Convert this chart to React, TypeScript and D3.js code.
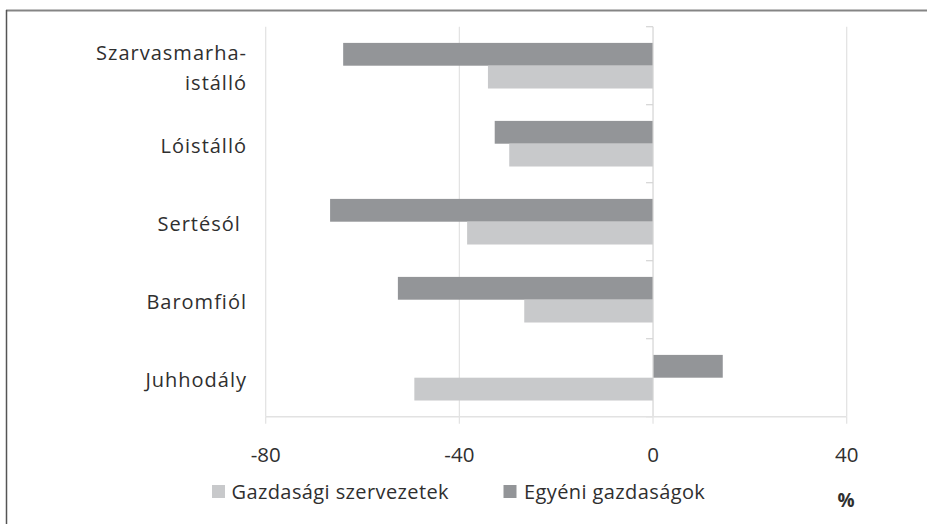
import React from 'react';
import * as d3 from 'd3';

// categories, top to bottom
const categories = ['Szarvasmarha-istálló', 'Lóistálló', 'Sertésól', 'Baromfiól', 'Juhhodály'];
const categoryLines = [['Szarvasmarha-', 'istálló'], ['Lóistálló'], ['Sertésól\u00a0'], ['Baromfiól'], ['Juhhodály']];

// % change
const gazdasagi = [-34.1, -29.7, -38.4, -26.6, -49.3];
const egyeni = [-64.0, -32.7, -66.7, -52.7, 14.4];

const xTicks = [-80, -40, 0, 40];
const seriesNames = ['Gazdasági szervezetek', 'Egyéni gazdaságok'];
const seriesColors = ['#c8c9cb', '#939598'];

const FONT = "'Open Sans', 'DejaVu Sans', sans-serif";
const TEXT = '#2f2f2f';

export default function App() {
  const width = 927;
  const height = 524;
  const plot = { left: 265.7, right: 846.7, top: 26.7, bottom: 416.7 };

  const x = d3.scaleLinear().domain([-80, 40]).range([plot.left, plot.right]);
  const y = d3.scaleBand().domain(categories).range([plot.top, plot.bottom]).padding(0);
  // within a category: dark (Egyéni) on top, light (Gazdasági) below
  const sub = d3.scaleBand().domain(['egyeni', 'gazdasagi']).range([0, y.bandwidth()])
    .paddingInner(0).paddingOuter(0.71);

  const x0 = x(0);
  const bars = categories.flatMap((c, i) => [
    { key: 'egyeni', cat: c, v: egyeni[i], fill: seriesColors[1] },
    { key: 'gazdasagi', cat: c, v: gazdasagi[i], fill: seriesColors[0] },
  ]);

  return (
    <svg width={width} height={height} style={{ position: 'absolute', left: 0, top: 0, background: '#fff' }}
      fontFamily={FONT}>
      {/* frame */}
      <line x1={6} x2={width} y1={10.5} y2={10.5} stroke="#858585" strokeWidth={2} />
      <line x1={6.5} x2={6.5} y1={10} y2={height} stroke="#555" strokeWidth={1.5} />

      {/* gridlines */}
      {xTicks.filter(t => t !== 0).map(t => (
        <line key={t} x1={x(t)} x2={x(t)} y1={plot.top} y2={plot.bottom} stroke="#e2e2e2" strokeWidth={1.2} />
      ))}

      {/* bars */}
      {bars.map(b => (
        <rect key={b.cat + b.key}
          x={Math.min(x(b.v), x0)} width={Math.abs(x(b.v) - x0)}
          y={(y(b.cat) as number) + (sub(b.key) as number)} height={sub.bandwidth()}
          fill={b.fill} />
      ))}

      {/* zero axis with category ticks */}
      <line x1={x0} x2={x0} y1={plot.top} y2={plot.bottom} stroke="#d4d4d4" strokeWidth={1.2} />
      {d3.range(categories.length + 1).map(i => {
        const yy = plot.top + i * y.step();
        return <line key={i} x1={x0 - 7} x2={x0} y1={yy} y2={yy} stroke="#d4d4d4" strokeWidth={1.2} />;
      })}

      {/* bottom axis */}
      <line x1={plot.left} x2={plot.right} y1={plot.bottom} y2={plot.bottom} stroke="#e2e2e2" strokeWidth={1.5} />
      {xTicks.map(t => (
        <g key={t}>
          <line x1={x(t)} x2={x(t)} y1={plot.bottom} y2={plot.bottom + 7} stroke="#e2e2e2" strokeWidth={1.2} />
          <text x={x(t)} y={462} textAnchor="middle" fontSize={20.5} fill={TEXT}>{t}</text>
        </g>
      ))}

      {/* category labels */}
      {categories.map((c, i) => {
        const lines = categoryLines[i];
        const cy = (y(c) as number) + y.bandwidth() / 2;
        const lh = 30;
        const first = cy + 9.5 - ((lines.length - 1) * lh) / 2 - (lines.length > 1 ? 0.5 : 0);
        return (
          <text key={c} x={247} textAnchor="end" fontSize={20} fill={TEXT} letterSpacing={1}
            style={{ whiteSpace: 'pre' }}>
            {lines.map((l, j) => (
              <tspan key={j} x={247} y={first + j * lh}>{l}</tspan>
            ))}
          </text>
        );
      })}

      {/* legend */}
      <rect x={212} y={485} width={13} height={13} fill={seriesColors[0]} />
      <text x={231.5} y={499} fontSize={20} fill={TEXT} letterSpacing={0.4}>{seriesNames[0]}</text>
      <rect x={503.5} y={485} width={13} height={13} fill={seriesColors[1]} />
      <text x={524} y={499} fontSize={20} fill={TEXT} letterSpacing={0.4}>{seriesNames[1]}</text>

      <text x={846} y={507} textAnchor="middle" fontSize={19} fontWeight="bold" fill={TEXT}>%</text>
    </svg>
  );
}
